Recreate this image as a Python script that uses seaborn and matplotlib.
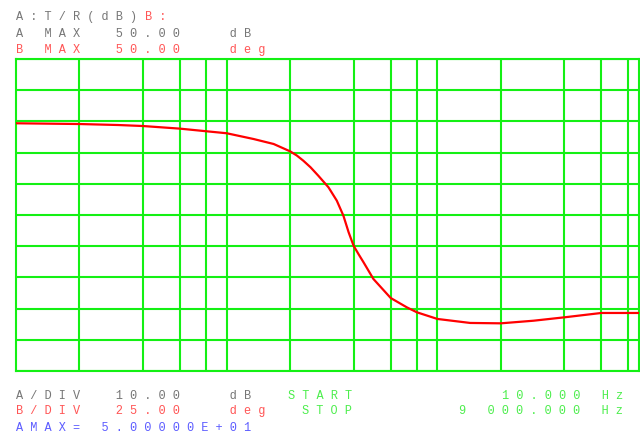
import matplotlib
matplotlib.use("Agg")
import matplotlib.pyplot as plt
import numpy as np
import pandas as pd
import seaborn as sns

freq_hz = [10, 20, 30.6, 40, 60, 80, 100, 134, 167, 200, 215, 231, 250, 272,
           304, 333, 358, 379, 400, 422, 446, 497, 600, 716, 800, 1000, 1430,
           2000, 2860, 4000, 6000, 9000]
fase_deg = [-1.5, -2.1, -2.9, -3.7, -5.8, -7.9, -9.5, -14.1, -18.1, -24.0,
            -27.3, -31.5, -36.8, -43.5, -52.8, -63.5, -75.6, -88.9, -99.6,
            -106.3, -112.9, -126.3, -141.5, -149.0, -153.0, -158.3, -161.5,
            -161.8, -159.7, -157.0, -153.5, -153.5]

grade_x = [20, 40, 60, 80, 100, 200, 400, 600, 800, 1000, 2000, 4000, 6000, 8000]
marcas_x = [18, 36, 54, 72, 90, 180, 360, 540, 720, 900, 1800, 3600, 5400, 7200]
grade_y = [-200, -175, -150, -125, -100, -75, -50, -25, 0, 25, 50]

# textos: (linha, coluna, texto, cor)
_CINZA = "#767676"
_VERM = "#ff5555"
_VERDE = "#4cee4c"
_AZUL = "#5c5cff"
textos_topo = [
    (0, 0, "A:T/R(dB)", _CINZA), (0, 9, "B:", _VERM),
    (1, 0, "A MAX  50.00   dB", _CINZA),
    (2, 0, "B MAX  50.00   deg", _VERM),
]
textos_base = [
    (0, 0, "A/DIV  10.00   dB", _CINZA), (0, 19, "START", _VERDE),
    (0, 34, "10.000 Hz", _VERDE),
    (1, 0, "B/DIV  25.00   deg", _VERM), (1, 20, "STOP", _VERDE),
    (1, 31, "9 000.000 Hz", _VERDE),
    (2, 0, "AMAX= 5.00000E+01", _AZUL),
]

_GRADE = "#14f014"
W, H = 640, 439

sns.set_style("white")
plt.rcParams["font.family"] = ["Liberation Mono", "DejaVu Sans Mono"]

fig = plt.figure(figsize=(W / 100, H / 100), dpi=100)
ax = fig.add_axes([16 / W, 1 - 372 / H, 622.5 / W, 312 / H])

df = pd.DataFrame({"freq": freq_hz, "fase": fase_deg})
sns.lineplot(data=df, x="freq", y="fase", ax=ax, color="#ff0000", lw=1.6,
             zorder=3)

ax.set_xscale("log")
ax.set_xlim(10, 9000)
ax.set_ylim(-200, 50)
ax.set_xticks(grade_x)
ax.set_xticks(marcas_x, minor=True)
ax.set_yticks(grade_y)
ax.grid(True, which="major", color=_GRADE, lw=1.5)
ax.tick_params(which="major", length=0, labelbottom=False, labelleft=False)
ax.tick_params(which="minor", direction="in", length=3, width=1.2,
               color=_GRADE, labelbottom=False, top=False)
ax.set_xlabel("")
ax.set_ylabel("")
for sp in ax.spines.values():
    sp.set_edgecolor(_GRADE)
    sp.set_linewidth(1.5)


def espacar(s):
    return " ".join(s)


PASSO = 14.28
X0 = 16.4
for linhas, bases in ((textos_topo, [20, 36.7, 53.5]),
                      (textos_base, [399, 414.5, 431.5])):
    for lin, col, txt, cor in linhas:
        fig.text((X0 + col * PASSO) / W, 1 - bases[lin] / H, espacar(txt),
                 color=cor, fontsize=8.57, ha="left", va="baseline")

fig.savefig("out.png", dpi=100)
plt.close(fig)
